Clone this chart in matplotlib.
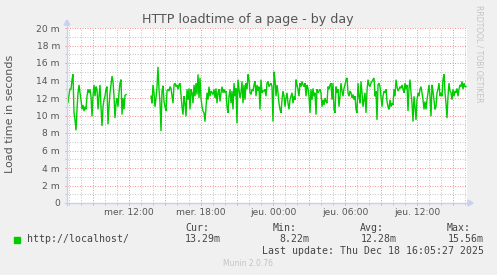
import matplotlib
matplotlib.use("Agg")
import matplotlib.pyplot as plt
import numpy as np
from matplotlib.lines import Line2D
from matplotlib.patches import Polygon, Rectangle

# ---------------- data ----------------
title = "HTTP loadtime of a page - by day"
y_label = "Load time in seconds"
series_name = "http://localhost/"
step_minutes = 5
seg1_start_h = 6 + 50 / 60      # Wed 06:50
seg2_start_h = 13 + 50 / 60     # Wed 13:50
seg1_ms = [11.8, 11.4, 12.4, 13.0, 13.0, 14.1, 14.7, 10.3, 9.5, 8.3,
           10.7, 12.6, 13.5, 12.6, 11.8, 10.7, 11.2, 10.5, 11.0, 10.7,
           12.2, 13.0, 12.6, 13.0, 12.2, 9.9, 12.2, 13.5, 12.2, 13.3,
           13.0, 10.7, 12.2, 13.5, 11.0, 8.8, 11.0, 11.8, 12.2, 13.0,
           13.3, 9.0, 11.0, 12.6, 13.5, 14.5, 13.9, 12.2, 9.7, 11.4,
           12.0, 11.0, 12.6, 13.7, 14.1, 10.1, 12.0, 10.7, 12.3, 12.4]
seg2_ms = [12.2, 11.4, 13.5, 12.6, 11.0, 12.0, 13.3, 15.56, 13.0, 11.5, 8.22, 12.8, 13.4,
           11.6, 11.0, 10.5, 12.8, 13.0, 12.8, 13.3, 13.1, 12.2, 11.4,
           13.5, 13.7, 13.3, 13.5, 13.0, 13.5, 13.7, 12.4, 11.0, 10.1,
           12.2, 11.4, 9.9, 13.0, 11.8, 13.1, 10.7, 13.0, 12.6, 11.4,
           13.5, 12.2, 13.7, 12.4, 14.7, 12.0, 14.3, 12.0, 11.0, 10.5,
           10.3, 9.3, 11.0, 12.6, 11.8, 13.3, 12.2, 12.8, 12.6, 12.4,
           13.0, 12.0, 13.1, 11.4, 12.6, 13.0, 11.6, 12.6, 13.3, 12.6,
           13.0, 12.6, 12.8, 11.0, 10.3, 12.2, 13.0, 11.4, 12.8, 10.7,
           13.7, 12.2, 13.1, 9.1, 14.1, 13.0, 12.0, 12.6, 13.9, 11.4,
           13.5, 11.8, 13.7, 13.0, 14.7, 14.1, 12.6, 12.4, 13.0, 12.8,
           13.5, 13.9, 12.2, 13.5, 12.8, 13.3, 10.7, 14.1, 12.6, 12.8,
           12.8, 13.0, 12.2, 13.7, 13.9, 13.3, 13.5, 13.7, 13.3, 9.3,
           15.0, 14.1, 12.2, 13.5, 12.6, 11.4, 10.7, 10.3, 11.8, 12.8,
           12.2, 11.0, 12.0, 12.6, 11.4, 10.7, 11.8, 12.2, 12.6, 11.4,
           12.2, 11.8, 14.1, 13.5, 13.0, 12.2, 13.7, 13.3, 13.9, 13.5,
           13.3, 13.7, 12.2, 13.5, 13.1, 12.2, 10.3, 13.0, 11.8, 13.1,
           12.2, 12.6, 10.1, 13.0, 12.6, 12.8, 13.0, 12.6, 11.0, 11.8,
           11.2, 12.0, 11.6, 11.4, 13.3, 13.0, 13.5, 13.7, 11.8, 13.7,
           10.7, 10.3, 13.3, 12.6, 13.0, 11.0, 12.2, 13.7, 12.8, 12.2,
           13.1, 13.5, 14.1, 14.3, 12.6, 12.2, 12.8, 12.6, 12.0, 12.4,
           11.8, 12.2, 10.7, 10.3, 13.7, 12.2, 11.4, 13.9, 12.6, 11.0,
           11.8, 12.6, 10.3, 12.8, 14.1, 13.5, 13.3, 13.7, 13.9, 14.1,
           14.3, 12.2, 12.8, 9.5, 13.5, 13.7, 13.3, 12.2, 11.0, 12.2,
           12.8, 12.6, 13.0, 11.6, 11.0, 10.7, 11.8, 11.0, 11.4, 11.2,
           13.0, 12.2, 14.1, 13.3, 12.8, 13.0, 13.3, 13.1, 13.5, 13.0,
           12.6, 13.7, 13.0, 13.5, 10.5, 13.1, 14.1, 12.6, 11.4, 9.3,
           12.2, 11.0, 9.5, 11.8, 12.6, 12.2, 13.0, 13.3, 12.6, 11.8,
           10.7, 11.6, 10.7, 11.8, 12.6, 13.5, 12.2, 9.9, 13.5, 12.8,
           11.8, 10.7, 11.0, 12.6, 13.0, 13.7, 12.2, 12.6, 12.2, 14.1,
           14.7, 12.6, 11.4, 9.7, 12.2, 13.7, 12.8, 12.6, 11.8, 13.0,
           12.2, 12.8, 12.6, 13.1, 12.2, 13.0, 13.5, 13.3, 13.9, 13.0,
           13.7, 13.3, 13.29]
x_tick_hours = [12, 18, 24, 30, 36]
x_tick_labels = ["mer. 12:00", "mer. 18:00", "jeu. 00:00", "jeu. 06:00", "jeu. 12:00"]
y_ticks = [0, 2, 4, 6, 8, 10, 12, 14, 16, 18, 20]
y_tick_labels = ["0", "2 m", "4 m", "6 m", "8 m", "10 m", "12 m", "14 m", "16 m", "18 m", "20 m"]
x_range_h = (6 + 50 / 60, 40 + 10 / 60)
stats_head = ["Cur:", "Min:", "Avg:", "Max:"]
stats_vals = ["13.29m", "8.22m", "12.28m", "15.56m"]
last_update = "Last update: Thu Dec 18 16:05:27 2025"
watermark = "RRDTOOL / TOBI OETIKER"
footer = "Munin 2.0.76"

# ---------------- figure ----------------
W, H = 497, 275
DPI = 100
BG = "#f0f0f0"
TXT = "#555555"
GREEN = "#00cc00"
MAJ = "#ee9a9a"
MIN = "#c8c8c8"
AXC = "#c8d0f4"

fig = plt.figure(figsize=(W / DPI, H / DPI), dpi=DPI, facecolor=BG)
L, R, T, B = 67, 467, 28, 203
ax = fig.add_axes([L / W, 1 - B / H, (R - L) / W, (B - T) / H])
ax.set_facecolor("white")
for s in ax.spines.values():
    s.set_visible(False)

ax.set_xlim(*x_range_h)
ax.set_ylim(y_ticks[0], y_ticks[-1])

# grid
px = 0.72
gkw = dict(lw=px, ls=(0, (1, 1.5)))
for h in np.arange(7, 41, 1):
    if h % 3:
        ax.axvline(h, color=MIN, zorder=1, **gkw)
for v in range(1, 20, 2):
    ax.axhline(v, color=MIN, zorder=1, **gkw)
for h in np.arange(9, 41, 3):
    ax.axvline(h, color=MAJ, zorder=2, **gkw)
for v in y_ticks[1:]:
    ax.axhline(v, color=MAJ, zorder=2, **gkw)

# data
dt = step_minutes / 60
t1 = seg1_start_h + dt * np.arange(len(seg1_ms))
t2 = seg2_start_h + dt * np.arange(len(seg2_ms))
ax.plot(t1, seg1_ms, color=GREEN, lw=1.0, zorder=5, solid_joinstyle="miter")
ax.plot(t2, seg2_ms, color=GREEN, lw=1.0, zorder=5, solid_joinstyle="miter")

# ticks
ax.set_xticks(np.arange(9, 41, 3))
ax.set_xticklabels(["" if h not in x_tick_hours else x_tick_labels[x_tick_hours.index(h)]
                    for h in range(9, 41, 3)])
ax.set_xticks(np.arange(7, 41, 1), minor=True)
ax.set_yticks(y_ticks)
ax.set_yticklabels(y_tick_labels)
ax.set_yticks(np.arange(1, 20, 2), minor=True)
ax.tick_params(axis="both", which="major", length=2 * px, width=px, color=MAJ,
               labelsize=6.6, labelcolor=TXT, direction="out")
ax.tick_params(axis="both", which="minor", length=2 * px, width=px, color=MIN,
               direction="out")
ax.tick_params(axis="x", which="major", pad=2.0)
ax.tick_params(axis="y", which="major", pad=3.6)


def fx(p):
    return p / W


def fy(p):
    return 1 - p / H


# axis lines with arrows
fig.add_artist(Line2D([fx(L), fx(L)], [fy(B + 2), fy(T - 4)], color=AXC, lw=1.0))
fig.add_artist(Line2D([fx(L - 2), fx(R + 2)], [fy(B), fy(B)], color=AXC, lw=1.0))
fig.add_artist(Polygon([[fx(L - 3), fy(T - 3)], [fx(L + 3), fy(T - 3)], [fx(L), fy(T - 8)]],
                       closed=True, color=AXC, transform=fig.transFigure))
fig.add_artist(Polygon([[fx(R + 1), fy(B - 3)], [fx(R + 1), fy(B + 3)], [fx(R + 6), fy(B)]],
                       closed=True, color=AXC, transform=fig.transFigure))

# texts
fig.text(fx(248), fy(19), title, ha="center", va="center", fontsize=9.05, color=TXT)
fig.text(fx(10), fy(114), y_label, ha="center", va="center", rotation=90,
         fontsize=8, color=TXT)
fig.text(fx(479), fy(54), watermark, ha="center", va="center", rotation=270,
         fontsize=5.5, color="#c4c4c4")
fig.text(fx(248), fy(264), footer, ha="center", va="center", fontsize=5.5, color="#c4c4c4")

mono = "DejaVu Sans Mono"
MTXT = "#444444"
fig.add_artist(Rectangle((fx(14), fy(242.5)), 6 / W, 6 / H, color=GREEN,
                         transform=fig.transFigure))
fig.text(fx(26.7), fy(239.3), series_name, ha="left", va="center", family=mono,
         fontsize=7.1, color=MTXT)
head_x = [185, 272.7, 360, 446.7]
val_x = [185, 279, 360.3, 447.3]
for hx, vx, hd, vl in zip(head_x, val_x, stats_head, stats_vals):
    fig.text(fx(hx), fy(228.3), hd, ha="left", va="center", family=mono,
             fontsize=7.1, color=MTXT)
    fig.text(fx(vx), fy(239.3), vl, ha="left", va="center", family=mono,
             fontsize=7.1, color=MTXT)
fig.text(fx(261.7), fy(251), last_update, ha="left", va="center", family=mono,
         fontsize=7.1, color=MTXT)

fig.savefig("out.png", dpi=DPI, facecolor=BG)
